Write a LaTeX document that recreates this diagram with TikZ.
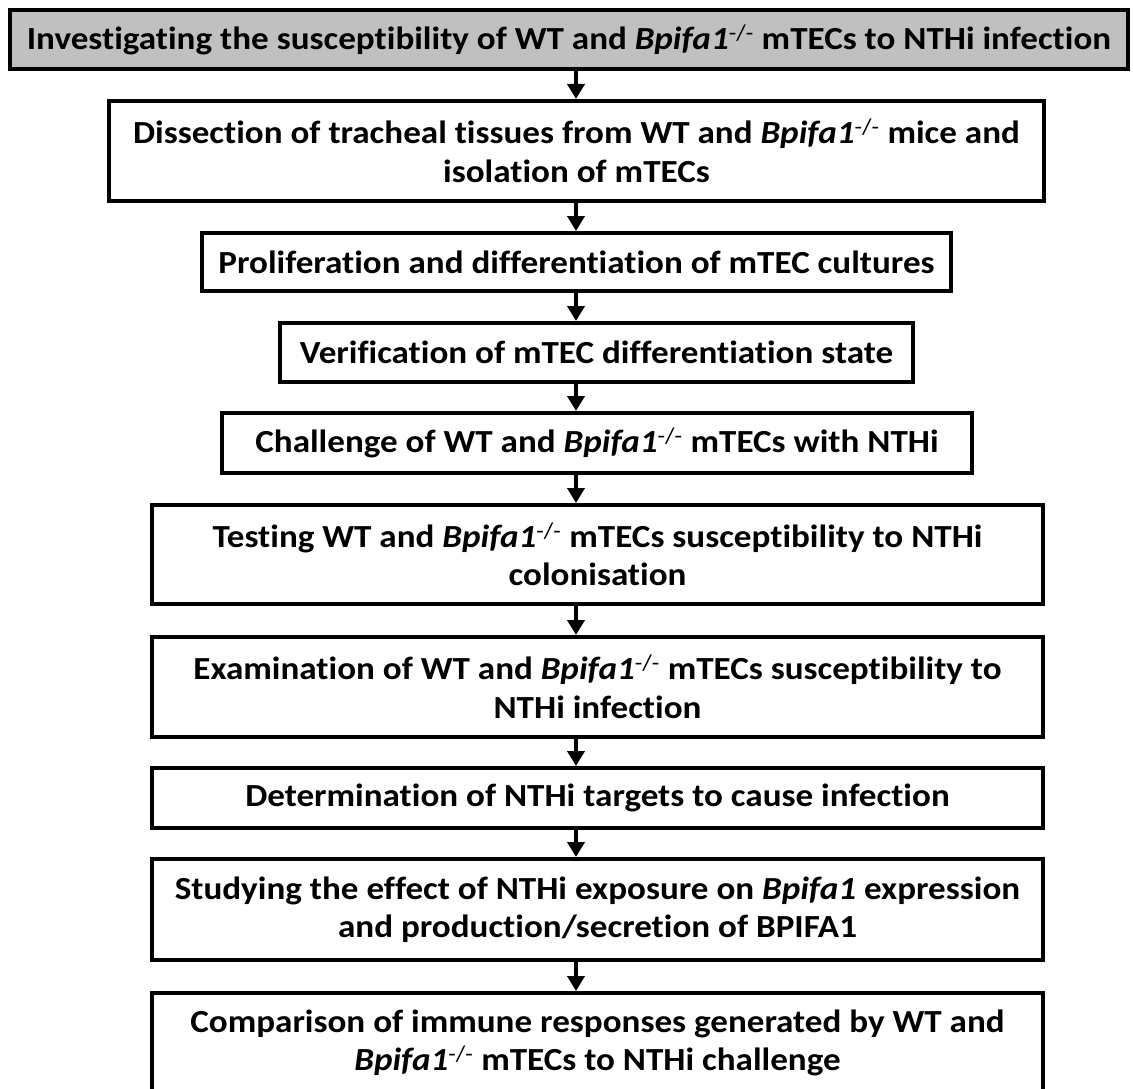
\documentclass[tikz,border=0pt]{standalone}
\usepackage{fontspec}
\setmainfont{Carlito}[Ligatures={NoCommon},FakeStretch=1.09]
\usepackage{xcolor}
\usepackage{tikz}
\usetikzlibrary{arrows.meta}
\definecolor{headgray}{HTML}{C0C0C0}
\newcommand{\bpko}{\textit{Bpifa1}\textsuperscript{\normalfont -/-}}

\tikzset{
  stepbox/.style={draw=black,line width=4pt,align=center,inner sep=0pt,
    font=\bfseries\fontsize{32.2}{38.5}\selectfont},
  arr/.style={-{Triangle[length=15pt,width=17pt]},line width=4pt},
}

\begin{document}
\begin{tikzpicture}[x=1pt,y=-1pt]
  \useasboundingbox (0,0) rectangle (1133,1089);
  % heading box
  \node[stepbox,fill=headgray,minimum width=1118pt,minimum height=59pt] (s1) at (569,39.5)
    {Investigating the susceptibility of WT and \bpko{} mTECs to NTHi infection};
  % workflow steps
  \node[stepbox,minimum width=935pt,minimum height=100pt] (s2) at (576.5,151)
    {Dissection of tracheal tissues from WT and \bpko{} mice and\\isolation of mTECs};
  \node[stepbox,minimum width=749pt,minimum height=58pt] (s3) at (576.5,262)
    {Proliferation and differentiation of mTEC cultures};
  \node[stepbox,minimum width=633pt,minimum height=59pt] (s4) at (596.5,352.5)
    {Verification of mTEC differentiation state};
  \node[stepbox,minimum width=750pt,minimum height=60pt] (s5) at (597,443)
    {Challenge of WT and \bpko{} mTECs with NTHi};
  \node[stepbox,minimum width=891pt,minimum height=99pt] (s6) at (597.5,554.5)
    {Testing WT and \bpko{} mTECs susceptibility to NTHi\\colonisation};
  \node[stepbox,minimum width=891pt,minimum height=100pt] (s7) at (597.5,687)
    {Examination of WT and \bpko{} mTECs susceptibility to\\NTHi infection};
  \node[stepbox,minimum width=891pt,minimum height=60pt] (s8) at (597.5,798)
    {Determination of NTHi targets to cause infection};
  \node[stepbox,minimum width=891pt,minimum height=101pt] (s9) at (597.5,909.5)
    {Studying the effect of NTHi exposure on \textit{Bpifa1} expression\\and production/secretion of BPIFA1};
  \node[stepbox,minimum width=891pt,minimum height=100pt] (s10) at (597.5,1043)
    {Comparison of immune responses generated by WT and\\\bpko{} mTECs to NTHi challenge};
  % arrows all run down one column
  \coordinate (spine) at (576,0);
  \foreach \a/\b in {s1/s2,s2/s3,s3/s4,s4/s5,s5/s6,s6/s7,s7/s8,s8/s9,s9/s10}
    \draw[arr] (\a.south -| spine) -- (\b.north -| spine);
\end{tikzpicture}
\end{document}
